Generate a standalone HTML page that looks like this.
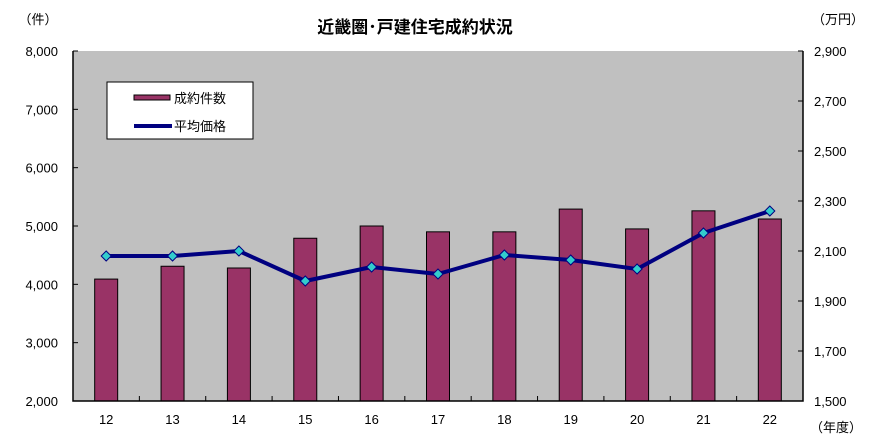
<!DOCTYPE html>
<html><head><meta charset="utf-8"><style>
body{margin:0;background:#fff;}
svg text{font-family:"Liberation Sans","Noto Sans CJK JP",sans-serif;fill:#000;}
</style></head><body>
<svg id="chart" width="880" height="443" xmlns="http://www.w3.org/2000/svg">
<text x="415" y="33" font-size="17" font-weight="bold" text-anchor="middle">近畿圏･戸建住宅成約状況</text>
<text x="38" y="24" font-size="13" text-anchor="middle">（件）</text>
<text x="838" y="24" font-size="13" text-anchor="middle">（万円）</text>
<text x="836" y="432" font-size="13" text-anchor="middle">（年度）</text>
<rect x="73" y="51" width="730" height="350" fill="#c0c0c0"/>
<g id="bars"></g><g id="line"></g><g id="axes"></g>
<g>
<rect x="107" y="82" width="146" height="57" fill="#fff" stroke="#000" stroke-width="1"/>
<rect x="134" y="95" width="36" height="5" fill="#993366" stroke="#000" stroke-width="1"/>
<text x="174" y="103" font-size="13">成約件数</text>
<line x1="134" y1="126" x2="172" y2="126" stroke="#000080" stroke-width="4"/>
<text x="174" y="131" font-size="13">平均価格</text>
</g>
</svg>
<script>
const categories=["12","13","14","15","16","17","18","19","20","21","22"];
const counts=[4090,4310,4280,4790,5000,4900,4900,5290,4950,5260,5120];
const prices=[2080,2080,2100,1980,2036,2008,2084,2064,2028,2172,2260];
const leftTicks=[2000,3000,4000,5000,6000,7000,8000];
const rightTicks=[1500,1700,1900,2100,2300,2500,2700,2900];
const NS="http://www.w3.org/2000/svg";
const L=73,R=803,T=51,B=401;
const band=(R-L)/categories.length;
const xc=i=>L+band*(i+0.5);
const yL=v=>B-(v-2000)/6000*(B-T);
const yR=v=>B-(v-1500)/1400*(B-T);
function mk(t,a,p){const e=document.createElementNS(NS,t);for(const k in a)e.setAttribute(k,a[k]);p.appendChild(e);return e;}
const bars=document.getElementById('bars'),line=document.getElementById('line'),axes=document.getElementById('axes');
counts.forEach((v,i)=>{
const r=mk('rect',{x:xc(i)-11.5,y:yL(v),width:23,height:B-yL(v),fill:'#993366',stroke:'#000','stroke-width':1},bars);


});
const pl=mk('polyline',{points:prices.map((v,i)=>xc(i)+','+yR(v)).join(' '),fill:'none',stroke:'#000080','stroke-width':4,'stroke-linejoin':'round'},line);


prices.forEach((v,i)=>{
const x=xc(i),y=yR(v);
const d=mk('polygon',{points:`${x},${y-5} ${x+5},${y} ${x},${y+5} ${x-5},${y}`,fill:'#33cccc',stroke:'#000080','stroke-width':1},line);


});
mk('path',{d:`M${L},${T}V${B}H${R}V${T}`,fill:'none',stroke:'#000','stroke-width':1.5},axes);
leftTicks.forEach(v=>{
const y=yL(v);
mk('line',{x1:L,y1:y,x2:L+5,y2:y,stroke:'#000'},axes);
const t=mk('text',{x:58,y:y+5,'font-size':13,'text-anchor':'end'},axes);t.textContent=v.toLocaleString('en-US');


});
rightTicks.forEach(v=>{
const y=yR(v);
mk('line',{x1:R-5,y1:y,x2:R,y2:y,stroke:'#000'},axes);
const t=mk('text',{x:814,y:y+5,'font-size':13},axes);t.textContent=v.toLocaleString('en-US');


});
categories.forEach((c,i)=>{
mk('line',{x1:L+band*(i+1),y1:B,x2:L+band*(i+1),y2:B-5,stroke:'#000'},axes);
const t=mk('text',{x:xc(i),y:424,'font-size':13,'text-anchor':'middle'},axes);t.textContent=c;


});
</script>
</body></html>
